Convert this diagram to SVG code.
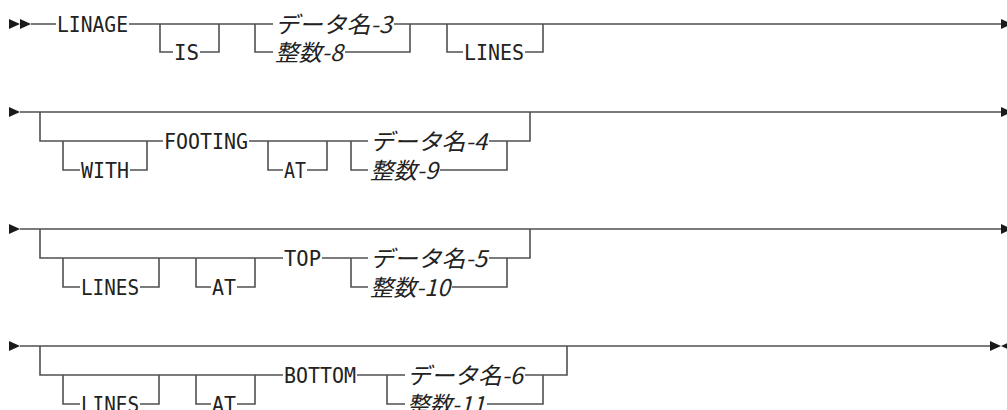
<svg xmlns="http://www.w3.org/2000/svg" width="1007" height="410" viewBox="0 0 1007 410">
<style>
.ln{fill:none;stroke:#505050;stroke-width:1.6}
.ar{fill:#1a1a1a}
.kw{font-family:"DejaVu Sans Mono","Liberation Mono",monospace;font-size:22px;fill:#222}
.jp{font-family:"Noto Sans CJK JP","Noto Sans",sans-serif;font-size:23px;font-style:italic;fill:#222}
</style>
<rect width="1007" height="410" fill="#fff"/>
<g id="connectors">
<path class="ln" d="M31,24 H56 M129,24 H273 M160,24 V52 H173 M200,52 H219 V24 M255,24 V52 H273 M345,52 H410 V24 M394,24 H1001 M447,24 V52 H463 M525,52 H543 V24"/>
<path class="ln" d="M20,112 H1001 M40,112 V141 H163 M63,141 V170 H80 M130,170 H147 V141 M249,141 H368 M268,141 V170 H283 M307,170 H327 V141 M351,141 V170 H368 M440,170 H507 V141 M489,141 H530 V112"/>
<path class="ln" d="M20,229 H1001 M40,229 V258 H283 M63,258 V287 H80 M140,287 H159 V258 M196,258 V287 H211 M237,287 H255 V258 M322,258 H368 M351,258 V287 H368 M452,287 H507 V258 M489,258 H530 V229"/>
<path class="ln" d="M20,346 H990 M40,346 V375 H283 M63,375 V404 H80 M140,404 H159 V375 M196,375 V404 H211 M237,404 H255 V375 M357,375 H405 M387,375 V404 H405 M487,404 H543 V375 M525,375 H567 V346"/>
<polygon class="ar" points="9,19 20,24 9,29"/>
<polygon class="ar" points="20,19 31,24 20,29"/>
<polygon class="ar" points="1001,19 1012,24 1001,29"/>
<polygon class="ar" points="9,107 20,112 9,117"/>
<polygon class="ar" points="1001,107 1012,112 1001,117"/>
<polygon class="ar" points="9,224 20,229 9,234"/>
<polygon class="ar" points="1001,224 1012,229 1001,234"/>
<polygon class="ar" points="9,341 20,346 9,351"/>
<polygon class="ar" points="990,341 1001,346 990,351"/>
<polygon class="ar" points="1012,341 1001,346 1012,351"/>
</g>
<g id="n-linage"><text class="kw" x="57" y="32" textLength="71" lengthAdjust="spacingAndGlyphs">LINAGE</text></g>
<g id="n-is"><text class="kw" x="174" y="60" textLength="25" lengthAdjust="spacingAndGlyphs">IS</text></g>
<g id="n-data3"><text class="jp" x="275" y="33" textLength="117" lengthAdjust="spacingAndGlyphs">データ名-3</text></g>
<g id="n-int8"><text class="jp" x="275" y="61" textLength="68" lengthAdjust="spacingAndGlyphs">整数-8</text></g>
<g id="n-lines1"><text class="kw" x="464" y="60" textLength="60" lengthAdjust="spacingAndGlyphs">LINES</text></g>
<g id="n-with"><text class="kw" x="81" y="178" textLength="48" lengthAdjust="spacingAndGlyphs">WITH</text></g>
<g id="n-footing"><text class="kw" x="164" y="149" textLength="84" lengthAdjust="spacingAndGlyphs">FOOTING</text></g>
<g id="n-at2"><text class="kw" x="284" y="178" textLength="22" lengthAdjust="spacingAndGlyphs">AT</text></g>
<g id="n-data4"><text class="jp" x="370" y="150" textLength="117" lengthAdjust="spacingAndGlyphs">データ名-4</text></g>
<g id="n-int9"><text class="jp" x="370" y="179" textLength="68" lengthAdjust="spacingAndGlyphs">整数-9</text></g>
<g id="n-lines3"><text class="kw" x="81" y="295" textLength="58" lengthAdjust="spacingAndGlyphs">LINES</text></g>
<g id="n-at3"><text class="kw" x="212" y="295" textLength="24" lengthAdjust="spacingAndGlyphs">AT</text></g>
<g id="n-top"><text class="kw" x="284" y="266" textLength="37" lengthAdjust="spacingAndGlyphs">TOP</text></g>
<g id="n-data5"><text class="jp" x="370" y="267" textLength="117" lengthAdjust="spacingAndGlyphs">データ名-5</text></g>
<g id="n-int10"><text class="jp" x="370" y="296" textLength="80" lengthAdjust="spacingAndGlyphs">整数-10</text></g>
<g id="n-lines4"><text class="kw" x="81" y="412" textLength="58" lengthAdjust="spacingAndGlyphs">LINES</text></g>
<g id="n-at4"><text class="kw" x="212" y="412" textLength="24" lengthAdjust="spacingAndGlyphs">AT</text></g>
<g id="n-bottom"><text class="kw" x="284" y="383" textLength="72" lengthAdjust="spacingAndGlyphs">BOTTOM</text></g>
<g id="n-data6"><text class="jp" x="407" y="384" textLength="116" lengthAdjust="spacingAndGlyphs">データ名-6</text></g>
<g id="n-int11"><text class="jp" x="407" y="413" textLength="78" lengthAdjust="spacingAndGlyphs">整数-11</text></g>
</svg>
